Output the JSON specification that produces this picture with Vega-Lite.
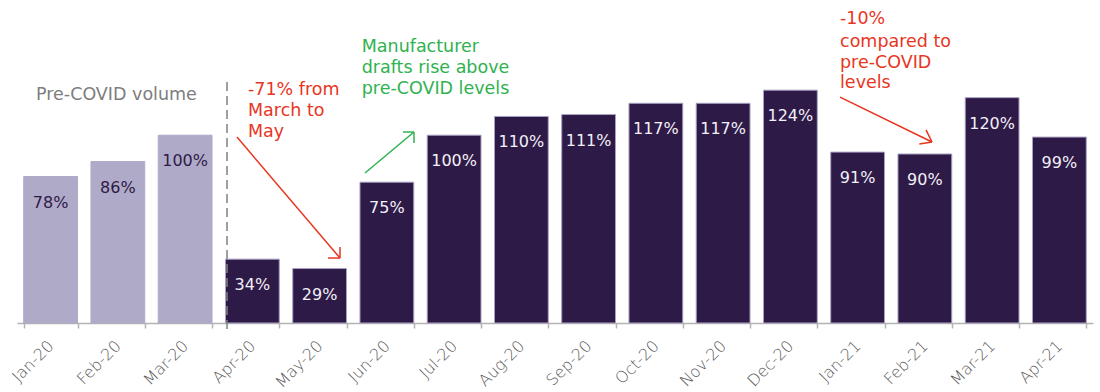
{
  "$schema": "https://vega.github.io/schema/vega-lite/v6.json",
  "width": 1076,
  "height": 323,
  "autosize": {"type": "none"},
  "padding": {"left": 17, "top": 0, "right": 7, "bottom": 69},
  "background": "white",
  "config": {"view": {"stroke": null}, "font": "DejaVu Sans"},
  "layer": [
    {
      "data": {"values": [
        {"month": "Jan-20", "value": 78, "label": "78%", "grp": "pre"},
        {"month": "Feb-20", "value": 86, "label": "86%", "grp": "pre"},
        {"month": "Mar-20", "value": 100, "label": "100%", "grp": "pre"},
        {"month": "Apr-20", "value": 34, "label": "34%", "grp": "post"},
        {"month": "May-20", "value": 29, "label": "29%", "grp": "post"},
        {"month": "Jun-20", "value": 75, "label": "75%", "grp": "post"},
        {"month": "Jul-20", "value": 100, "label": "100%", "grp": "post"},
        {"month": "Aug-20", "value": 110, "label": "110%", "grp": "post"},
        {"month": "Sep-20", "value": 111, "label": "111%", "grp": "post"},
        {"month": "Oct-20", "value": 117, "label": "117%", "grp": "post"},
        {"month": "Nov-20", "value": 117, "label": "117%", "grp": "post"},
        {"month": "Dec-20", "value": 124, "label": "124%", "grp": "post"},
        {"month": "Jan-21", "value": 91, "label": "91%", "grp": "post"},
        {"month": "Feb-21", "value": 90, "label": "90%", "grp": "post"},
        {"month": "Mar-21", "value": 120, "label": "120%", "grp": "post"},
        {"month": "Apr-21", "value": 99, "label": "99%", "grp": "post"}
      ]},
      "encoding": {
        "x": {
          "field": "month", "type": "nominal", "sort": null,
          "scale": {"paddingInner": 0.2, "paddingOuter": 0.1},
          "axis": {
            "title": null, "labelAngle": -45, "labelAlign": "right", "labelBaseline": "middle",
            "labelFontSize": 16, "labelFontWeight": 200, "labelColor": "#5a5a5a", "labelPadding": 15,
            "domainColor": "#b3b3b3", "domainWidth": 1.5, "tickColor": "#b3b3b3",
            "tickSize": 5, "tickWidth": 1.5, "tickBand": "extent"
          }
        },
        "y": {"field": "value", "type": "quantitative", "scale": {"domain": [0, 172], "nice": false}, "axis": null}
      },
      "layer": [
        {
          "mark": {"type": "bar"},
          "encoding": {
            "color": {"field": "grp", "type": "nominal", "scale": {"domain": ["pre", "post"], "range": ["#b0aac9", "#2e1a47"]}, "legend": null},
            "stroke": {"field": "grp", "type": "nominal", "scale": {"domain": ["pre", "post"], "range": ["#b0aac9", "#a9a1c2"]}, "legend": null}
          }
        },
        {
          "mark": {"type": "text", "dy": 26, "baseline": "middle", "fontSize": 16},
          "encoding": {
            "text": {"field": "label"},
            "color": {"condition": {"test": "datum.grp === 'pre'", "value": "#2e1a47"}, "value": "#f2f0f7"}
          }
        }
      ]
    },
    {
      "layer": [
        {
          "data": {"values": [{"x": 3.123, "y": 128.3, "y2": -3.7}]},
          "mark": {"type": "rule", "strokeDash": [9, 5], "strokeWidth": 1.5, "color": "#808080"},
          "encoding": {
            "x": {"field": "x", "type": "quantitative", "scale": {"domain": [0, 16], "nice": false, "zero": false}, "axis": null},
            "y": {"field": "y", "type": "quantitative", "scale": {"domain": [0, 172], "nice": false}, "axis": null},
            "y2": {"field": "y2"}
          }
        },
        {
          "data": {"values": [
            {"x": 3.271, "y": 99.0, "x2": 4.803, "y2": 34.6, "grp": "decline"},
            {"x": 4.803, "y": 40.5, "x2": 4.803, "y2": 34.6, "grp": "decline"},
            {"x": 4.625, "y": 34.6, "x2": 4.803, "y2": 34.6, "grp": "decline"},
            {"x": 5.175, "y": 79.9, "x2": 5.903, "y2": 101.7, "grp": "rise"},
            {"x": 5.740, "y": 101.7, "x2": 5.903, "y2": 101.7, "grp": "rise"},
            {"x": 5.903, "y": 95.8, "x2": 5.903, "y2": 101.7, "grp": "rise"},
            {"x": 12.238, "y": 120.3, "x2": 13.606, "y2": 96.4, "grp": "decline"},
            {"x": 13.517, "y": 102.8, "x2": 13.606, "y2": 96.4, "grp": "decline"},
            {"x": 13.417, "y": 95.3, "x2": 13.606, "y2": 96.4, "grp": "decline"}
          ]},
          "mark": {"type": "rule", "strokeWidth": 1.5},
          "encoding": {
            "x": {"field": "x", "type": "quantitative", "scale": {"domain": [0, 16], "nice": false, "zero": false}, "axis": null},
            "x2": {"field": "x2"},
            "y": {"field": "y", "type": "quantitative", "scale": {"domain": [0, 172], "nice": false}, "axis": null},
            "y2": {"field": "y2"},
            "color": {"field": "grp", "type": "nominal", "scale": {"domain": ["decline", "rise", "note"], "range": ["#e8351e", "#2fb24f", "#7d7d7d"]}, "legend": null}
          }
        },
        {
          "data": {"values": [
            {"x": 0.283, "y": 121.4, "text": "Pre-COVID volume", "grp": "note"},
            {"x": 3.435, "y": 124.1, "text": "-71% from", "grp": "decline"},
            {"x": 3.435, "y": 112.9, "text": "March to", "grp": "decline"},
            {"x": 3.435, "y": 101.7, "text": "May", "grp": "decline"},
            {"x": 5.126, "y": 147.1, "text": "Manufacturer", "grp": "rise"},
            {"x": 5.126, "y": 135.6, "text": "drafts rise above", "grp": "rise"},
            {"x": 5.126, "y": 124.4, "text": "pre-COVID levels", "grp": "rise"},
            {"x": 12.238, "y": 161.9, "text": "-10%", "grp": "decline"},
            {"x": 12.238, "y": 149.6, "text": "compared to", "grp": "decline"},
            {"x": 12.238, "y": 138.4, "text": "pre-COVID", "grp": "decline"},
            {"x": 12.238, "y": 127.8, "text": "levels", "grp": "decline"}
          ]},
          "mark": {"type": "text", "align": "left", "baseline": "middle", "fontSize": 17.5},
          "encoding": {
            "x": {"field": "x", "type": "quantitative", "scale": {"domain": [0, 16], "nice": false, "zero": false}, "axis": null},
            "y": {"field": "y", "type": "quantitative", "scale": {"domain": [0, 172], "nice": false}, "axis": null},
            "text": {"field": "text"},
            "color": {"field": "grp", "type": "nominal", "scale": {"domain": ["decline", "rise", "note"], "range": ["#e8351e", "#2fb24f", "#7d7d7d"]}, "legend": null}
          }
        }
      ]
    }
  ],
  "resolve": {"scale": {"x": "independent", "color": "independent", "stroke": "independent"}}
}
